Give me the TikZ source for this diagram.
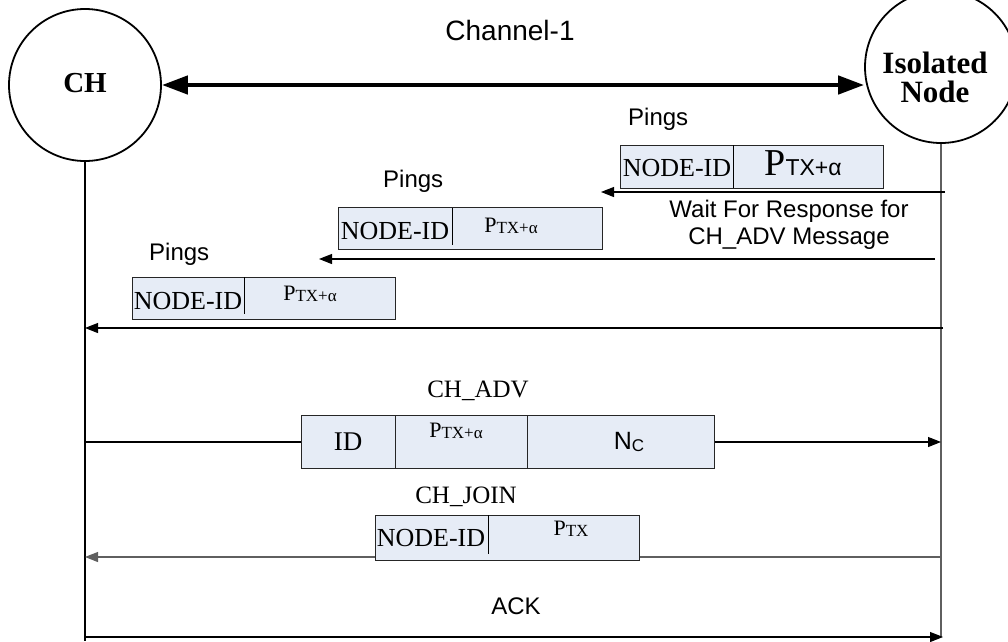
\documentclass[tikz,border=0pt]{standalone}
\usepackage{fontspec}
\usepackage{graphicx}
\setmainfont{Liberation Serif}
\newfontfamily\arial{Liberation Sans}
\usetikzlibrary{arrows.meta}

\definecolor{boxfill}{RGB}{230,236,246}
\definecolor{linegray}{RGB}{95,95,95}

\newcommand\fs[1]{\fontsize{#1}{#1}\selectfont}
% transmit-power field: P with a subscript
\newcommand\PtxBig{{\fs{38}P}{\arial\fs{23}TX+α}}
\newcommand\PtxSmall{{\fs{22}P}{\fs{17}\raisebox{-1pt}{TX+α}}}
\newcommand\PtxPlain{{\fs{22}P}{\fs{17}\raisebox{-1pt}{TX}}}
\newcommand\NcField{{\arial\fs{25}N}{\arial\fs{17}\raisebox{-2pt}{C}}}

\tikzset{
  actor/.style={circle, draw, line width=1.8pt, minimum size=152pt, inner sep=0pt},
  lifeline/.style={line width=1.1pt},
  msg/.style={line width=1.1pt, -{Triangle[length=13pt,width=10pt]}},
  plainline/.style={line width=1.1pt},
  pkt/.style={draw=black!85, fill=boxfill, line width=1pt, inner sep=0pt},
  divider/.style={line width=1pt},
  lbl/.style={font=\arial\fs{24}, inner sep=0pt},
  seriflbl/.style={font=\fs{25}, inner sep=0pt},
  fieldtxt/.style={inner sep=0pt},
  actortxt/.style={font=\fs{31}\bfseries, inner sep=0pt, anchor=base},
}

\begin{document}
\begin{tikzpicture}[x=1pt,y=-1pt]
\useasboundingbox (0,0) rectangle (1008,641);

% the two parties
\node[actor] (ch) at (85,85) {};
\node[font=\fs{29}\bfseries, inner sep=0pt] (chtxt) at (85,83) {CH};
\node[actor] (iso) at (941,67) {};
\node[actortxt] (isotxt1) at (935,73) {Isolated};
\node[actortxt] (isotxt2) at (935,102) {Node};

% shared channel
\draw[line width=4.5pt, {Triangle[length=26pt,width=18pt]}-{Triangle[length=26pt,width=18pt]}]
  (ch.east) -- (iso.west |- ch.east);
\node[lbl, font=\arial\fs{28}, anchor=base] (chanlbl) at (510,40) {Channel-1};

% lifelines
\coordinate (chEnd) at (85,641);
\coordinate (isoEnd) at (941,637);
\draw[lifeline] (ch.south) -- (chEnd);
\draw[lifeline, linegray] (iso.south) -- (isoEnd);

% ---- first ping ----
\node[lbl, anchor=base west] (ping1lbl) at (628,125) {Pings};
\node[pkt, minimum width=263pt, minimum height=43pt] (b1) at (751.5,166.5) {};
\draw[divider] (733,145) -- (733,188);
\node[fieldtxt, font=\fs{26}] (b1id) at (677,168) {NODE-ID};
\node[fieldtxt] (b1p) at (803,163) {\PtxBig};
\coordinate (p1s) at (945,192);
\coordinate (p1e) at (601,192);
\draw[msg] (p1s) -- (p1e);

% ---- second ping ----
\node[lbl, anchor=base west] (ping2lbl) at (383,187) {Pings};
\node[pkt, minimum width=264pt, minimum height=42pt] (b2) at (470,228) {};
\draw[divider] (452,208) -- (452,245);
\node[fieldtxt, font=\fs{26}] (b2id) at (395,231) {NODE-ID};
\node[fieldtxt] (b2p) at (511,226) {\PtxSmall};
\coordinate (p2s) at (935,259);
\coordinate (p2e) at (319,259);
\draw[msg] (p2s) -- (p2e);

\node[lbl, anchor=base] (wait1) at (789,217) {Wait For Response for};
\node[lbl, anchor=base] (wait2) at (789,244) {CH\_ADV Message};

% ---- third ping ----
\node[lbl, anchor=base west] (ping3lbl) at (149,260) {Pings};
\node[pkt, minimum width=263pt, minimum height=42pt] (b3) at (263.5,298) {};
\draw[divider] (244,277) -- (244,314);
\node[fieldtxt, font=\fs{26}] (b3id) at (188,301) {NODE-ID};
\node[fieldtxt] (b3p) at (310,294) {\PtxSmall};
\coordinate (p3s) at (943,328);
\coordinate (p3e) at (85,328);
\draw[msg] (p3s) -- (p3e);

% ---- cluster-head advertisement ----
\node[seriflbl, anchor=base] (advlbl) at (478,397) {CH\_ADV};
\node[pkt, minimum width=94pt, minimum height=53pt] (advid) at (348,442) {};
\node[pkt, minimum width=132pt, minimum height=53pt] (advp) at (461,442) {};
\node[pkt, minimum width=187pt, minimum height=53pt] (advn) at (620.5,442) {};
\node[fieldtxt, font=\fs{27}] (advidt) at (348,442) {ID};
\node[fieldtxt] (advpt) at (456,431) {\PtxSmall};
\node[fieldtxt] (advnt) at (629,442) {\NcField};
\coordinate (a1) at (85,442);
\coordinate (a2) at (941,442);
\draw[plainline] (a1) -- (advid.west);
\draw[msg] (advn.east) -- (a2);

% ---- join request ----
\node[seriflbl, anchor=base] (joinlbl) at (466,503) {CH\_JOIN};
\coordinate (j1) at (941,557);
\coordinate (j2) at (85,557);
\draw[msg, linegray] (j1) -- (j2);
\node[pkt, minimum width=264pt, minimum height=45pt] (jb) at (507,537.5) {};
\draw[divider] (488,515) -- (488,554);
\node[fieldtxt, font=\fs{26}] (jbid) at (431,538) {NODE-ID};
\node[fieldtxt] (jbp) at (571,529) {\PtxPlain};

% ---- acknowledgement ----
\node[lbl, anchor=base] (acklbl) at (516,614) {ACK};
\coordinate (k1) at (85,637);
\coordinate (k2) at (943,637);
\draw[msg] (k1) -- (k2);

\end{tikzpicture}
\end{document}
